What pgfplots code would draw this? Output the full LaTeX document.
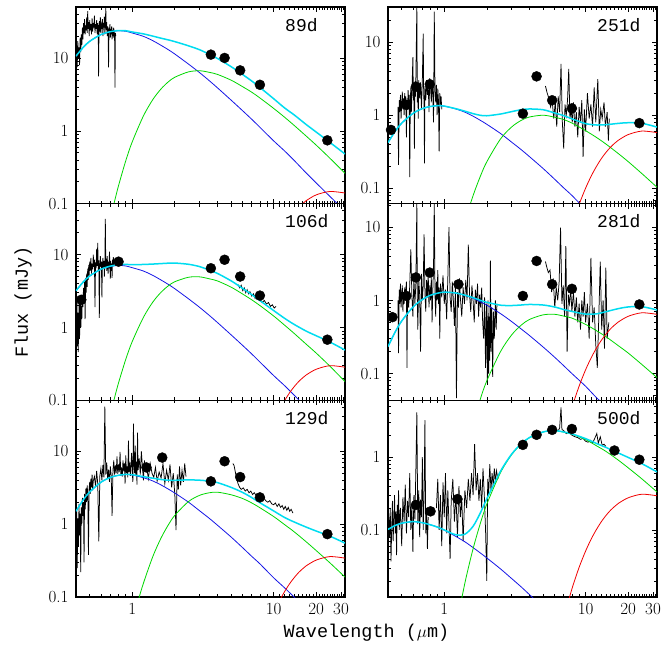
\documentclass[border=0pt]{standalone}
\usepackage{fontspec}
\usepackage{pgfplots}
\pgfplotsset{compat=1.18}
\usepgfplotslibrary{groupplots}
\newfontfamily\monofont{Liberation Mono}
\definecolor{cblue}{RGB}{20,20,230}
\definecolor{cgreen}{RGB}{0,215,0}
\definecolor{cred}{RGB}{240,0,0}
\definecolor{ccyan}{RGB}{0,220,240}
\pgfplotsset{
  spec/.style={black, line width=0.75pt, mark=none},
  hot/.style={cblue, line width=0.8pt, mark=none, smooth},
  warm/.style={cgreen, line width=0.8pt, mark=none, smooth},
  cold/.style={cred, line width=0.8pt, mark=none, smooth},
  tot/.style={ccyan, line width=1.5pt, mark=none, smooth},
  phot/.style={only marks, mark=*, mark size=5pt, black},
}
\newcommand{\plab}[1]{\node[anchor=north west, inner sep=0pt, font=\monofont\fontsize{18}{20}\selectfont] at (rel axis cs:0.777,0.945) {#1};}
\begin{document}
\begin{tikzpicture}
\begin{groupplot}[
  group style={group size=2 by 3, horizontal sep=43pt, vertical sep=0pt, xticklabels at=edge bottom},
  width=269pt, height=196.67pt, scale only axis,
  xmode=log, ymode=log, xmin=0.4, xmax=32,
  xtick={1,10,20,30}, xticklabels={1,10,20,30},
  minor xtick={0.5,0.6,0.7,0.8,0.9,2,3,4,5,6,7,8,9,11,12,13,14,15,16,17,18,19,21,22,23,24,25,26,27,28,29,31,32},
  minor ytick={0.02,0.03,0.04,0.05,0.06,0.07,0.08,0.09,0.2,0.3,0.4,0.5,0.6,0.7,0.8,0.9,2,3,4,5,6,7,8,9,20,30,40,50},
  tick pos=both, tick align=inside,
  major tick length=5pt, minor tick length=3pt,
  tick style={black, line width=0.6pt},
  axis line style={line width=1.1pt},
  /pgf/number format/assume math mode=true,
  tick label style={font=\fontsize{17}{20}\selectfont},
  yticklabel style={xshift=-4pt},
  xticklabel style={yshift=-3pt},
]
% ---------------- 89d
\nextgroupplot[ymin=0.1, ymax=50, ytick={0.1,1,10}, yticklabels={0.1,1,10}]
\addplot[spec] coordinates {(0.400,9.0)(0.404,15)(0.408,7.5)(0.412,17)(0.416,10)(0.420,14)(0.424,8)(0.428,19)(0.432,12)(0.436,21)(0.440,15)(0.444,26)(0.448,18)(0.452,30)(0.456,22)(0.460,34)(0.464,21)(0.468,28)(0.472,24)(0.476,36)(0.480,22)(0.484,44)(0.488,25)(0.492,31)(0.496,20)(0.500,33)(0.505,24)(0.510,29)(0.515,21)(0.520,35)(0.525,23)(0.530,30)(0.535,26)(0.540,38)(0.545,22)(0.550,29)(0.555,25)(0.560,33)(0.565,21)(0.570,30)(0.575,24)(0.578,5.6)(0.582,27)(0.586,32)(0.590,23)(0.595,36)(0.600,22)(0.605,28)(0.610,25)(0.615,34)(0.620,20)(0.625,30)(0.630,26)(0.635,37)(0.640,21)(0.645,29)(0.650,49)(0.655,24)(0.660,31)(0.665,20)(0.670,27)(0.675,23)(0.680,7.4)(0.685,26)(0.690,22)(0.695,29)(0.700,19)(0.705,25)(0.710,21)(0.715,27)(0.720,18)(0.725,24)(0.730,20)(0.735,26)(0.740,19)(0.745,23)(0.750,21)(0.755,3.9)(0.760,22)(0.765,20)};
\addplot[hot] coordinates {(0.4,10.59)(0.45,13.99)(0.5,16.91)(0.6,20.91)(0.7,22.89)(0.8,23.6)(0.9,23.22)(1,22.0)(1.2,19.78)(1.4,17.22)(1.6,14.88)(1.8,12.97)(2,11.32)(2.5,8.23)(3,6.27)(3.5,4.89)(4,3.90)(5,2.64)(6,1.907)(7,1.441)(8,1.118)(10,0.729)(12,0.526)(14,0.391)(17,0.264)(20,0.193)(25,0.126)(32,0.0795)};
\addplot[warm] coordinates {(0.6,0.0138)(0.7,0.061)(0.75,0.108)(0.8,0.177)(0.9,0.389)(1,0.706)(1.2,1.603)(1.4,2.695)(1.6,3.766)(1.8,4.70)(2,5.43)(2.5,6.44)(3,6.67)(3.5,6.35)(4,5.95)(5,4.96)(6,4.06)(7,3.39)(8,2.825)(10,2.033)(12,1.528)(14,1.183)(17,0.847)(20,0.637)(25,0.421)(32,0.261)};
\addplot[cold] coordinates {(12,0.049)(13,0.063)(14,0.076)(15,0.0888)(16,0.0999)(17,0.110)(20,0.132)(25,0.147)(32,0.140)};
\addplot[tot] coordinates {(0.4,10.59)(0.45,13.99)(0.5,16.91)(0.6,20.92)(0.7,22.95)(0.8,23.78)(0.9,23.61)(1,22.71)(1.2,21.38)(1.4,19.92)(1.6,18.65)(1.8,17.67)(2,16.75)(2.5,14.67)(3,12.94)(3.5,11.24)(4,9.85)(5,7.60)(6,5.97)(7,4.83)(8,3.94)(10,2.76)(12,2.05)(14,1.65)(17,1.22)(20,0.962)(25,0.694)(32,0.481)};
\addplot[phot] coordinates {(3.6,11.1)(4.5,10.0)(5.8,6.75)(8.0,4.28)(24,0.74)};
\plab{89d}
% ---------------- 251d
\nextgroupplot[ymin=0.062, ymax=30, ytick={0.1,1,10}, yticklabels={0.1,1,10}]
\addplot[spec] coordinates {(0.470,1.3)(0.475,0.21)(0.480,1.6)(0.485,1.1)(0.490,1.9)(0.495,0.9)(0.500,1.5)(0.505,2.1)(0.510,1.2)(0.515,1.7)(0.520,1.0)(0.525,2.0)(0.530,1.4)(0.535,1.8)(0.540,0.5)(0.545,1.6)(0.550,1.2)(0.555,2.2)(0.560,1.3)(0.565,1.9)(0.570,0.143)(0.575,1.5)(0.580,2.4)(0.585,1.1)(0.590,1.8)(0.595,3.5)(0.600,6.2)(0.605,1.6)(0.610,2.5)(0.615,0.35)(0.620,2.9)(0.625,1.8)(0.630,3.3)(0.640,30)(0.645,1.5)(0.650,2.6)(0.655,0.9)(0.660,3.0)(0.670,1.7)(0.680,2.8)(0.690,1.2)(0.700,3.1)(0.710,13)(0.715,2.0)(0.720,1.4)(0.725,0.22)(0.730,2.5)(0.740,1.6)(0.750,3.0)(0.760,1.9)(0.770,2.7)(0.780,1.1)(0.790,3.2)(0.800,2.4)(0.810,1.5)(0.820,2.8)(0.830,1.9)(0.840,0.8)(0.850,26)(0.860,2.2)(0.870,1.5)(0.880,2.6)(0.890,1.0)(0.900,2.3)(0.910,1.6)(0.920,0.32)(0.930,2.0)(0.940,1.4)(0.950,1.8)(0.960,1.2)};
\addplot[spec] coordinates {(5.20,2.5)(5.35,2.0)(5.50,1.7)(5.65,1.3)(5.80,1.6)(5.95,0.9)(6.10,1.5)(6.25,0.7)(6.40,1.8)(6.55,1.1)(6.70,5.0)(6.85,0.8)(7.00,0.35)(7.15,1.4)(7.30,1.0)(7.45,1.6)(7.60,4.3)(7.75,0.9)(7.90,1.2)(8.05,0.8)(8.20,1.5)(8.40,0.7)(8.60,1.1)(8.80,0.5)(9.00,1.3)(9.20,0.8)(9.40,1.6)(9.60,0.27)(9.80,1.2)(10.0,0.6)(10.3,2.0)(10.6,0.9)(10.9,1.4)(11.2,0.7)(11.5,2.4)(11.8,0.8)(12.2,3.1)(12.5,0.6)(12.8,1.2)(13.1,0.9)(13.5,1.5)(13.8,0.7)(14.2,1.1)(14.5,0.45)(14.7,0.9)};
\addplot[hot] coordinates {(0.4,0.4227)(0.45,0.6058)(0.5,0.7788)(0.6,1.0564)(0.7,1.233)(0.8,1.317)(0.9,1.35)(1,1.330)(1.2,1.220)(1.4,1.100)(1.6,0.970)(1.8,0.851)(2,0.752)(2.5,0.5636)(3,0.4283)(3.5,0.3392)(4,0.2728)(5,0.1876)(6,0.1353)(7,0.1018)(8,0.0803)(10,0.0517)(12,0.0374)(14,0.028)};
\addplot[warm] coordinates {(1.2,0.0107)(1.4,0.0349)(1.6,0.080)(1.8,0.1464)(2,0.2312)(2.5,0.474)(3,0.692)(3.5,0.8497)(4,0.9445)(5,1.0)(6,0.9417)(7,0.872)(8,0.7825)(10,0.615)(12,0.4939)(14,0.4009)(17,0.3004)(20,0.2328)(25,0.1598)(32,0.1039)};
\addplot[cold] coordinates {(7,0.012)(8,0.0305)(9,0.0605)(10,0.101)(11,0.150)(12,0.2036)(13,0.260)(14,0.314)(15,0.366)(16,0.412)(17,0.4535)(20,0.5435)(25,0.6076)(32,0.5786)};
\addplot[tot] coordinates {(0.4,0.4227)(0.45,0.606)(0.5,0.779)(0.6,1.056)(0.7,1.233)(0.8,1.317)(0.9,1.35)(1,1.332)(1.2,1.231)(1.4,1.135)(1.6,1.050)(1.8,0.997)(2,0.983)(2.5,1.038)(3,1.120)(3.5,1.189)(4,1.217)(5,1.188)(6,1.077)(7,0.986)(8,0.893)(10,0.768)(12,0.735)(14,0.743)(17,0.773)(20,0.790)(25,0.776)(32,0.688)};
\addplot[phot] coordinates {(0.42,0.63)(0.54,1.38)(0.63,2.45)(0.79,2.65)(3.6,1.05)(4.5,3.39)(5.8,1.60)(8.0,1.24)(24,0.78)};
\plab{251d}
% ---------------- 106d
\nextgroupplot[ymin=0.1, ymax=50, ytick={0.1,1,10}, yticklabels={0.1,1,10}]
\addplot[spec] coordinates {(0.400,2.0)(0.403,0.9)(0.406,2.2)(0.409,0.55)(0.412,1.6)(0.415,0.46)(0.418,1.2)(0.421,2.4)(0.424,0.7)(0.427,1.8)(0.430,2.6)(0.433,1.0)(0.436,2.0)(0.440,1.3)(0.444,2.8)(0.448,1.9)(0.452,3.5)(0.456,2.2)(0.460,4.2)(0.464,1.3)(0.468,4.8)(0.472,3.0)(0.476,5.5)(0.480,3.6)(0.484,6.4)(0.488,4.5)(0.492,7.2)(0.496,5.2)(0.500,8.0)(0.505,6.0)(0.510,9.0)(0.515,5.5)(0.520,7.5)(0.525,6.3)(0.530,10)(0.535,6.8)(0.540,8.5)(0.545,1.9)(0.550,7.8)(0.555,6.5)(0.560,12)(0.565,7.0)(0.570,14.5)(0.575,6.0)(0.580,8.3)(0.585,1.35)(0.590,7.5)(0.595,9.5)(0.600,6.8)(0.605,8.0)(0.610,2.6)(0.615,7.2)(0.620,9.0)(0.625,6.5)(0.630,8.2)(0.635,5.0)(0.640,7.4)(0.645,31)(0.650,6.8)(0.655,8.8)(0.660,6.0)(0.665,9.5)(0.670,7.0)(0.675,5.5)(0.680,8.0)(0.685,6.5)(0.690,11)(0.695,7.0)(0.700,4.7)(0.705,8.2)(0.710,6.0)(0.715,7.5)(0.720,4.8)(0.725,8.5)(0.730,7.0)(0.735,9.2)(0.740,7.5)(0.745,8.0)(0.750,7.6)};
\addplot[spec] coordinates {(5.6,3.9)(5.75,3.5)(5.9,3.8)(6.05,3.2)(6.2,3.5)(6.35,3.0)(6.5,3.3)(6.65,2.9)(6.8,3.1)(7.0,2.7)(7.2,2.9)(7.4,2.5)(7.6,2.7)(7.8,2.4)(8.0,2.55)(8.3,2.2)(8.6,2.35)(8.9,2.1)(9.2,2.2)(9.5,1.95)(9.8,2.05)(10.1,1.85)(10.4,1.95)};
\addplot[hot] coordinates {(0.4,3.186)(0.45,4.208)(0.5,5.087)(0.6,6.29)(0.7,6.886)(0.8,7.1)(0.9,6.985)(1,6.618)(1.2,5.95)(1.4,5.18)(1.6,4.476)(1.8,3.902)(2,3.405)(2.5,2.476)(3,1.886)(3.5,1.471)(4,1.173)(5,0.794)(6,0.574)(7,0.4335)(8,0.336)(10,0.2193)(12,0.1582)(14,0.1176)(17,0.0794)(20,0.058)(25,0.038)(32,0.0239)};
\addplot[warm] coordinates {(0.6,0.0154)(0.7,0.0636)(0.75,0.109)(0.8,0.174)(0.9,0.366)(1,0.642)(1.2,1.38)(1.4,2.24)(1.6,3.05)(1.8,3.73)(2,4.25)(2.5,4.89)(3,4.95)(3.5,4.66)(4,4.36)(5,3.58)(6,2.90)(7,2.40)(8,2.00)(10,1.44)(12,1.07)(14,0.827)(17,0.590)(20,0.446)(25,0.295)(32,0.181)};
\addplot[cold] coordinates {(9,0.0297)(10,0.0497)(11,0.0738)(12,0.100)(13,0.128)(14,0.1545)(15,0.18)(16,0.2025)(17,0.223)(20,0.267)(25,0.299)(32,0.285)};
\addplot[tot] coordinates {(0.4,3.19)(0.45,4.21)(0.5,5.09)(0.6,6.30)(0.7,6.95)(0.8,7.27)(0.9,7.35)(1,7.26)(1.2,7.33)(1.4,7.42)(1.6,7.53)(1.8,7.63)(2,7.66)(2.5,7.37)(3,6.84)(3.5,6.13)(4,5.53)(5,4.37)(6,3.47)(7,2.83)(8,2.34)(10,1.71)(12,1.33)(14,1.10)(17,0.892)(20,0.771)(25,0.632)(32,0.490)};
\addplot[phot] coordinates {(0.436,2.4)(0.8,8.0)(3.6,6.5)(4.5,8.5)(5.8,5.0)(8.0,2.74)(24,0.68)};
\plab{106d}
% ---------------- 281d
\nextgroupplot[ymin=0.043, ymax=21, ytick={0.1,1,10}, yticklabels={0.1,1,10}]
\addplot[spec] coordinates {(0.470,1.0)(0.475,0.19)(0.480,1.4)(0.485,0.9)(0.490,1.7)(0.495,0.8)(0.500,1.2)(0.505,1.6)(0.510,0.7)(0.515,1.3)(0.520,0.9)(0.525,1.5)(0.530,1.1)(0.540,1.8)(0.545,0.12)(0.550,1.3)(0.560,0.8)(0.570,1.6)(0.580,5.0)(0.590,1.2)(0.600,0.6)(0.610,2.0)(0.620,0.9)(0.630,1.7)(0.640,21)(0.645,1.1)(0.650,0.4)(0.660,1.9)(0.670,1.2)(0.680,0.2)(0.690,2.3)(0.700,1.0)(0.710,1.6)(0.720,8.0)(0.730,1.3)(0.740,0.7)(0.750,1.9)(0.760,1.1)(0.770,2.4)(0.780,0.8)(0.790,1.6)(0.800,1.0)(0.810,2.1)(0.820,0.5)(0.830,1.4)(0.840,3.0)(0.850,22)(0.860,1.2)(0.870,0.6)(0.880,1.8)(0.890,1.0)(0.900,2.6)(0.910,0.9)(0.920,1.5)(0.930,0.3)(0.940,1.7)(0.960,1.1)(0.980,2.2)(1.000,0.9)(1.020,1.4)(1.040,0.55)(1.060,2.0)(1.080,10)(1.100,1.1)(1.120,0.7)(1.140,1.8)(1.160,1.0)(1.180,0.45)(1.200,1.6)(1.220,0.046)(1.240,1.3)(1.260,0.8)(1.280,2.0)(1.300,1.1)(1.330,0.6)(1.360,1.5)(1.390,0.9)(1.420,1.9)(1.450,1.0)(1.480,5.8)(1.510,1.2)(1.540,0.7)(1.570,1.6)(1.600,1.0)(1.630,0.5)(1.660,1.4)(1.690,0.9)(1.720,1.7)(1.750,0.6)(1.780,1.2)(1.810,0.8)(1.840,1.5)(1.870,0.5)(1.900,0.3)(1.930,1.1)(1.960,0.12)(1.990,0.9)(2.020,0.07)(2.040,1.0)(2.060,0.1)(2.080,0.6)(2.100,0.15)(2.120,3.5)(2.140,0.2)(2.170,0.8)(2.200,0.09)(2.230,0.7)(2.260,0.3)(2.300,1.0)(2.330,0.4)(2.360,0.9)};
\addplot[spec] coordinates {(5.20,3.4)(5.30,2.9)(5.45,2.4)(5.60,2.6)(5.75,1.3)(5.90,2.0)(6.05,0.8)(6.20,1.5)(6.35,1.0)(6.50,1.8)(6.65,9.9)(6.80,0.9)(6.95,1.6)(7.10,0.6)(7.25,5.5)(7.40,0.2)(7.55,1.2)(7.70,0.9)(7.85,1.4)(8.00,0.7)(8.20,1.3)(8.40,0.6)(8.60,1.1)(8.80,0.5)(9.00,0.9)(9.20,0.4)(9.40,1.0)(9.60,0.6)(9.80,1.3)(10.0,0.5)(10.3,0.9)(10.6,0.3)(10.9,3.8)(11.2,0.5)(11.5,0.8)(11.8,0.25)(12.1,0.12)(12.4,0.6)(12.7,3.4)(13.0,0.4)(13.3,1.0)(13.6,0.22)(13.9,2.8)(14.2,0.3)(14.6,0.5)};
\addplot[hot] coordinates {(0.4,0.234)(0.45,0.371)(0.5,0.523)(0.6,0.808)(0.7,1.030)(0.8,1.177)(0.9,1.256)(1,1.297)(1.2,1.263)(1.4,1.170)(1.6,1.068)(1.8,0.959)(2,0.862)(2.5,0.660)(3,0.513)(3.5,0.407)(4,0.332)(5,0.231)(6,0.169)(7,0.128)(8,0.100)(10,0.067)(12,0.0463)(14,0.0355)(17,0.024)};
\addplot[warm] coordinates {(1.4,0.0076)(1.6,0.0211)(1.8,0.0448)(2,0.0795)(2.5,0.1995)(3,0.338)(3.5,0.458)(4,0.548)(5,0.634)(6,0.646)(7,0.610)(8,0.573)(10,0.470)(12,0.383)(14,0.317)(17,0.241)(20,0.191)(25,0.133)(32,0.088)};
\addplot[cold] coordinates {(7,0.0134)(8,0.034)(9,0.0674)(10,0.1126)(11,0.167)(12,0.227)(13,0.2895)(14,0.350)(15,0.408)(16,0.459)(17,0.5055)(20,0.606)(25,0.677)(32,0.645)};
\addplot[tot] coordinates {(0.4,0.234)(0.45,0.371)(0.5,0.523)(0.6,0.808)(0.7,1.030)(0.8,1.177)(0.9,1.256)(1,1.297)(1.2,1.265)(1.4,1.178)(1.6,1.089)(1.8,1.004)(2,0.942)(2.5,0.860)(3,0.851)(3.5,0.865)(4,0.880)(5,0.865)(6,0.815)(7,0.751)(8,0.707)(10,0.650)(12,0.656)(14,0.703)(17,0.771)(20,0.814)(25,0.821)(32,0.740)};
\addplot[phot] coordinates {(0.43,0.59)(0.54,1.15)(0.63,2.06)(0.79,2.4)(1.26,1.66)(3.6,1.15)(4.5,3.46)(5.8,1.66)(8.0,1.44)(24,0.88)};
\plab{281d}
% ---------------- 129d
\nextgroupplot[ymin=0.1, ymax=50, ytick={0.1,1,10}, yticklabels={0.1,1,10}]
\addplot[spec] coordinates {(0.400,0.8)(0.404,1.6)(0.408,0.25)(0.412,1.2)(0.416,0.5)(0.420,1.9)(0.424,0.7)(0.428,1.4)(0.432,0.22)(0.436,1.7)(0.440,1.0)(0.444,2.3)(0.448,1.3)(0.452,2.0)(0.456,0.3)(0.460,2.6)(0.465,1.6)(0.470,3.1)(0.475,2.0)(0.480,3.4)(0.485,2.4)(0.490,0.38)(0.495,3.0)(0.500,3.8)(0.505,2.6)(0.510,4.2)(0.515,3.2)(0.520,4.8)(0.525,2.9)(0.530,3.9)(0.540,4.5)(0.550,3.3)(0.560,5.4)(0.570,3.6)(0.580,0.58)(0.590,4.6)(0.600,5.8)(0.610,4.0)(0.620,6.5)(0.630,4.4)(0.640,41)(0.650,4.8)(0.660,7.0)(0.670,4.2)(0.680,5.6)(0.690,3.8)(0.700,6.2)(0.710,4.6)(0.720,1.3)(0.730,5.4)(0.740,7.5)(0.750,4.8)(0.760,6.4)(0.770,5.0)(0.780,8.5)(0.790,4.9)(0.800,6.6)(0.810,5.2)(0.820,9.8)(0.830,4.6)(0.840,6.0)(0.850,4.5)(0.860,7.5)(0.870,5.3)(0.880,6.8)(0.890,3.6)(0.900,8.8)(0.910,5.0)(0.920,6.2)(0.930,4.4)(0.940,14)(0.950,5.2)(0.960,7.0)(0.970,4.6)(0.990,9.5)(1.000,5.3)(1.010,3.8)(1.020,24)(1.030,6.3)(1.040,5.0)(1.050,12)(1.060,4.6)(1.070,7.2)(1.080,3.5)(1.090,18)(1.100,5.5)(1.120,8.0)(1.140,4.8)(1.160,10)(1.180,6.2)(1.200,4.0)(1.220,7.5)(1.240,5.8)(1.260,6.5)(1.300,4.2)(1.340,6.8)(1.380,5.0)(1.420,4.4)(1.460,6.0)(1.500,3.9)(1.550,5.2)(1.600,4.3)(1.650,6.8)(1.700,3.6)(1.750,5.5)(1.800,4.0)(1.850,6.6)(1.900,3.2)(1.950,5.0)(2.000,2.6)(2.040,0.83)(2.080,4.8)(2.120,3.0)(2.160,6.2)(2.200,3.4)(2.250,5.5)(2.300,3.8)(2.350,6.8)(2.400,4.5)};
\addplot[spec] coordinates {(5.15,6.8)(5.25,6.4)(5.35,5.3)(5.45,4.4)(5.6,3.6)(5.75,3.2)(5.9,3.0)(6.1,3.15)(6.3,2.85)(6.5,3.0)(6.7,2.7)(6.9,2.85)(7.1,2.55)(7.3,2.7)(7.6,2.4)(7.9,2.5)(8.2,2.25)(8.5,2.3)(8.8,2.1)(9.1,2.0)(9.4,2.1)(9.7,1.9)(10.0,1.85)(10.3,1.95)(10.6,1.75)(10.9,1.9)(11.2,1.7)(11.5,1.8)(11.8,1.6)(12.1,1.75)(12.4,1.55)(12.7,1.7)(13.0,1.5)(13.3,1.6)(13.7,1.42)};
\addplot[hot] coordinates {(0.4,1.503)(0.45,2.154)(0.5,2.769)(0.6,3.756)(0.7,4.384)(0.8,4.683)(0.9,4.8)(1,4.73)(1.2,4.339)(1.4,3.912)(1.6,3.449)(1.8,3.027)(2,2.674)(2.5,2.004)(3,1.523)(3.5,1.206)(4,0.970)(5,0.667)(6,0.481)(7,0.362)(8,0.2855)(10,0.184)(12,0.133)(14,0.0995)(17,0.070)(20,0.049)(25,0.033)(32,0.0198)};
\addplot[warm] coordinates {(0.8,0.005)(0.9,0.0174)(1,0.043)(1.1,0.0879)(1.2,0.155)(1.4,0.362)(1.6,0.648)(1.8,0.978)(2,1.321)(2.5,2.043)(3,2.489)(3.5,2.693)(4,2.749)(5,2.532)(6,2.259)(7,1.957)(8,1.681)(10,1.274)(12,0.981)(14,0.784)(17,0.573)(20,0.435)(25,0.295)(32,0.188)};
\addplot[cold] coordinates {(9,0.0357)(10,0.0596)(11,0.0885)(12,0.120)(13,0.153)(14,0.185)(15,0.216)(16,0.243)(17,0.268)(20,0.321)(25,0.359)(32,0.342)};
\addplot[tot] coordinates {(0.4,1.503)(0.45,2.154)(0.5,2.769)(0.6,3.756)(0.7,4.384)(0.8,4.69)(0.9,4.82)(1,4.77)(1.2,4.49)(1.4,4.27)(1.6,4.10)(1.8,4.01)(2,4.00)(2.5,4.05)(3,4.01)(3.5,3.90)(4,3.72)(5,3.20)(6,2.74)(7,2.32)(8,1.97)(10,1.52)(12,1.23)(14,1.07)(17,0.911)(20,0.805)(25,0.685)(32,0.549)};
\addplot[phot] coordinates {(1.26,6.0)(1.63,8.2)(3.6,3.87)(4.5,7.3)(5.8,4.43)(8.0,2.33)(24,0.73)};
\plab{129d}
% ---------------- 500d
\nextgroupplot[ymin=0.012, ymax=6, ytick={0.1,1}, yticklabels={0.1,1}]
\addplot[spec] coordinates {(0.395,0.12)(0.400,0.05)(0.405,0.15)(0.410,0.08)(0.415,0.2)(0.420,0.037)(0.425,0.11)(0.430,0.25)(0.435,0.07)(0.440,0.14)(0.445,0.3)(0.450,0.09)(0.455,0.18)(0.460,0.045)(0.465,0.22)(0.470,0.12)(0.475,0.35)(0.480,0.1)(0.490,0.2)(0.500,0.06)(0.510,0.28)(0.520,0.13)(0.530,0.42)(0.540,0.09)(0.550,0.25)(0.560,0.15)(0.570,0.6)(0.580,0.1)(0.590,0.22)(0.600,0.05)(0.610,0.3)(0.620,0.14)(0.630,0.7)(0.640,4.1)(0.650,0.12)(0.660,0.35)(0.670,0.08)(0.680,0.26)(0.690,0.15)(0.700,1.0)(0.710,0.1)(0.720,0.3)(0.730,3.2)(0.740,0.09)(0.750,0.2)(0.760,0.055)(0.770,0.15)};
\addplot[spec] coordinates {(0.880,0.2)(0.900,0.5)(0.920,0.1)(0.940,0.3)(0.960,0.06)(0.980,0.45)(1.000,0.15)(1.020,0.6)(1.040,0.09)(1.060,0.35)(1.080,0.12)(1.100,0.04)(1.120,0.25)(1.150,0.5)(1.180,0.13)(1.210,0.3)(1.240,0.08)(1.270,0.4)(1.300,0.15)(1.330,0.27)(1.360,0.07)(1.400,0.35)(1.440,0.2)(1.480,0.5)(1.520,0.25)(1.560,0.6)(1.600,0.3)(1.640,1.5)(1.680,0.35)(1.720,0.6)(1.760,0.25)(1.800,0.5)(1.840,0.2)(1.880,0.7)(1.920,0.3)(1.960,0.1)(2.000,0.02)(2.030,0.5)(2.060,0.3)(2.100,0.8)(2.140,0.35)(2.180,0.6)(2.220,0.4)(2.260,0.7)(2.300,0.45)(2.340,0.65)(2.400,0.5)};
\addplot[spec] coordinates {(6.40,2.3)(6.55,2.5)(6.70,4.8)(6.80,2.4)(7.00,2.3)(7.30,2.1)(7.60,2.2)(8.00,2.0)(8.40,1.9)(8.80,1.85)(9.20,1.75)(9.60,1.8)(10.0,1.65)(10.4,1.6)(10.8,1.7)(11.2,1.55)(11.6,1.8)(12.0,2.1)(12.3,1.55)(12.7,1.9)(13.1,1.45)(13.5,1.5)(13.9,1.4)};
\addplot[hot] coordinates {(0.4,0.1017)(0.45,0.1152)(0.5,0.1237)(0.6,0.130)(0.7,0.1256)(0.8,0.1175)(0.9,0.1090)(1,0.0996)(1.2,0.0820)(1.4,0.0687)(1.6,0.0572)(1.8,0.0483)(2,0.0413)(2.5,0.0292)(3,0.0215)(3.5,0.01655)(4,0.0130)(5,0.00864)};
\addplot[warm] coordinates {(1.1,0.0015)(1.2,0.00409)(1.4,0.0187)(1.6,0.0552)(1.8,0.123)(2,0.226)(2.5,0.610)(3,1.080)(3.5,1.505)(4,1.840)(5,2.205)(6,2.30)(7,2.20)(8,2.063)(10,1.732)(12,1.420)(14,1.189)(17,0.910)(20,0.713)(25,0.502)(32,0.332)};
\addplot[cold] coordinates {(6.5,0.00336)(7,0.0061)(8,0.0155)(9,0.0307)(10,0.0513)(11,0.0762)(12,0.1034)(13,0.132)(14,0.1597)(15,0.186)(16,0.209)(17,0.2305)(20,0.276)(25,0.309)(32,0.294)};
\addplot[tot] coordinates {(0.4,0.1017)(0.45,0.1152)(0.5,0.1237)(0.6,0.130)(0.7,0.1256)(0.8,0.1175)(0.9,0.1090)(1,0.100)(1.2,0.0861)(1.4,0.0874)(1.6,0.1124)(1.8,0.171)(2,0.267)(2.5,0.639)(3,1.10)(3.5,1.52)(4,1.85)(5,2.21)(6,2.31)(7,2.21)(8,2.08)(10,1.79)(12,1.53)(14,1.35)(17,1.14)(20,0.989)(25,0.811)(32,0.626)};
\addplot[phot] coordinates {(0.63,0.22)(0.80,0.18)(1.24,0.265)(3.6,1.47)(4.5,2.02)(5.8,2.36)(8.0,2.43)(16,1.23)(24,0.92)};
\plab{500d}
\end{groupplot}
\node[rotate=90, font=\monofont\fontsize{18.5}{20}\selectfont] at ([xshift=-53pt]group c1r2.west) {Flux (mJy)};
\node[font=\monofont\fontsize{18.5}{20}\selectfont] at ([xshift=21.5pt, yshift=-36pt]group c1r3.south east) {Wavelength (${\mu}$m)};
\pgfresetboundingbox
\path[use as bounding box] ([xshift=-76pt, yshift=7pt]group c1r1.north west) rectangle ([xshift=8pt, yshift=-57pt]group c2r3.south east);
\end{tikzpicture}
\end{document}
